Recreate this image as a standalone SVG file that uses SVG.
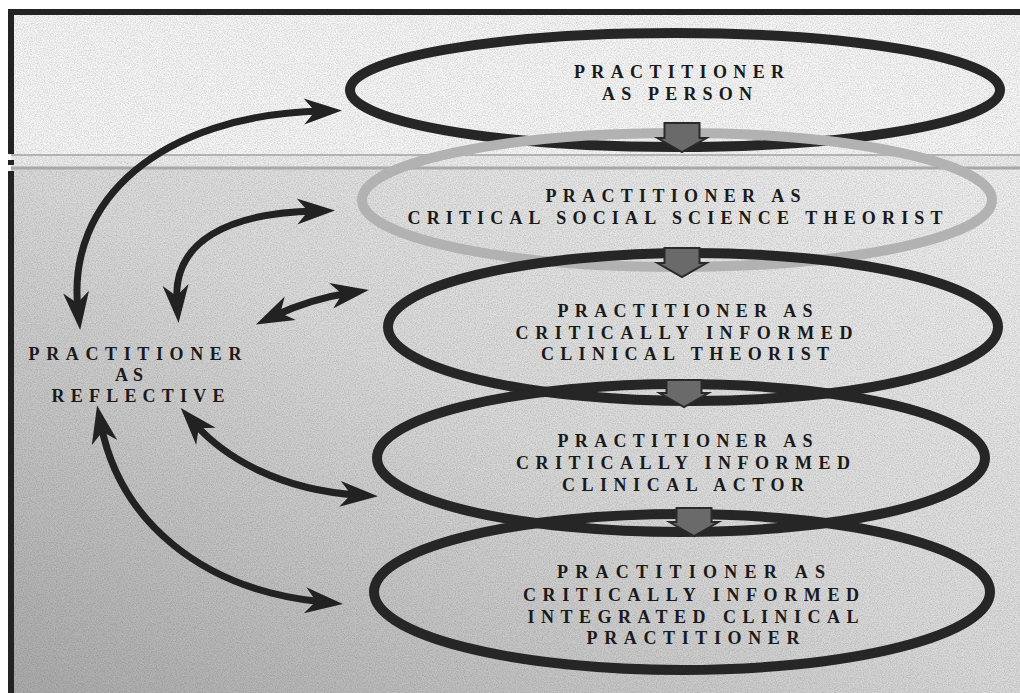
<svg xmlns="http://www.w3.org/2000/svg" width="1020" height="693" viewBox="0 0 1020 693">
  <style>
    .ring { fill: none; stroke: #262626; stroke-width: 10; }
    .ring-light { fill: none; stroke: #b2b2b2; stroke-width: 10; }
    .lbl { font-family: "Liberation Serif", "Times New Roman", serif; font-weight: bold; font-size: 18px; fill: #1a1a1a; text-anchor: middle; }
    .link { fill: none; stroke: #222; stroke-width: 7; stroke-linecap: butt; }
    .step { fill: #6a6a6a; stroke: #2a2a2a; stroke-width: 2; stroke-linejoin: miter; }
  </style>
  <defs>
    <linearGradient id="lowerBg" x1="1" y1="0" x2="0" y2="1">
      <stop offset="0" stop-color="#f0f0f0"/>
      <stop offset="0.5" stop-color="#dadada"/>
      <stop offset="1" stop-color="#ababab"/>
    </linearGradient>
    <filter id="grain" x="0" y="0" width="100%" height="100%">
      <feTurbulence type="fractalNoise" baseFrequency="0.85" numOctaves="2" seed="7"/>
      <feColorMatrix type="matrix" values="0 0 0 0 0  0 0 0 0 0  0 0 0 0 0  1.3 0 0 0 -0.45"/>
    </filter>
    <marker id="head" viewBox="-40 -14 44 28" refX="-20" refY="0" markerWidth="44" markerHeight="28" markerUnits="userSpaceOnUse" orient="auto-start-reverse">
      <path d="M0,0 L-38,-13 L-27,0 L-38,13 Z" fill="#222"/>
    </marker>
  </defs>

  <!-- paper -->
  <rect x="0" y="0" width="1020" height="693" fill="#ffffff"/>
  <rect x="11" y="12" width="1009" height="144" fill="#f6f6f6"/>
  <rect x="11" y="156" width="1009" height="12" fill="#ececec"/>
  <rect x="11" y="168" width="1009" height="525" fill="url(#lowerBg)"/>
  <rect x="11" y="12" width="1009" height="681" filter="url(#grain)" opacity="0.22"/>
  <line x1="11" y1="155" x2="1020" y2="155" stroke="#a0a0a0" stroke-width="1.5"/>
  <line x1="11" y1="168" x2="1020" y2="168" stroke="#a8a8a8" stroke-width="3"/>

  <!-- frame -->
  <g id="frame" fill="#232323">
    <rect x="8" y="9" width="1012" height="6"/>
    <rect x="8" y="9" width="6" height="145"/>
    <rect x="8" y="160" width="6" height="5"/>
    <rect x="8" y="171" width="6" height="522"/>
  </g>

  <!-- stacked practitioner roles -->
  <g id="node-person">
    <ellipse class="ring" cx="675" cy="90" rx="325" ry="57"/>
    <text class="lbl" x="679" y="78" textLength="210" lengthAdjust="spacing">PRACTITIONER</text>
    <text class="lbl" x="677" y="100" textLength="150" lengthAdjust="spacing">AS PERSON</text>
  </g>

  <g id="node-social-theorist">
    <ellipse class="ring-light" cx="677" cy="200" rx="315" ry="67"/>
    <text class="lbl" x="673" y="202" textLength="255" lengthAdjust="spacing">PRACTITIONER AS</text>
    <text class="lbl" x="675" y="224" textLength="535" lengthAdjust="spacing">CRITICAL SOCIAL SCIENCE THEORIST</text>
  </g>

  <g id="node-clinical-theorist">
    <ellipse class="ring" cx="693" cy="327" rx="305" ry="74"/>
    <text class="lbl" x="685" y="317" textLength="255" lengthAdjust="spacing">PRACTITIONER AS</text>
    <text class="lbl" x="684" y="339" textLength="337" lengthAdjust="spacing">CRITICALLY INFORMED</text>
    <text class="lbl" x="685" y="360" textLength="288" lengthAdjust="spacing">CLINICAL THEORIST</text>
  </g>

  <g id="node-clinical-actor">
    <ellipse class="ring" cx="681" cy="458" rx="304" ry="74"/>
    <text class="lbl" x="685" y="447" textLength="255" lengthAdjust="spacing">PRACTITIONER AS</text>
    <text class="lbl" x="683" y="469" textLength="334" lengthAdjust="spacing">CRITICALLY INFORMED</text>
    <text class="lbl" x="683" y="491" textLength="242" lengthAdjust="spacing">CLINICAL ACTOR</text>
  </g>

  <g id="node-integrated">
    <ellipse class="ring" cx="682" cy="592" rx="308" ry="78"/>
    <text class="lbl" x="691" y="578" textLength="268" lengthAdjust="spacing">PRACTITIONER AS</text>
    <text class="lbl" x="691" y="601" textLength="336" lengthAdjust="spacing">CRITICALLY INFORMED</text>
    <text class="lbl" x="693" y="623" textLength="331" lengthAdjust="spacing">INTEGRATED CLINICAL</text>
    <text class="lbl" x="693" y="644" textLength="213" lengthAdjust="spacing">PRACTITIONER</text>
  </g>

  <g id="node-reflective">
    <text class="lbl" x="135" y="360" textLength="213" lengthAdjust="spacing">PRACTITIONER</text>
    <text class="lbl" x="129" y="381" textLength="28" lengthAdjust="spacing">AS</text>
    <text class="lbl" x="138" y="402" textLength="173" lengthAdjust="spacing">REFLECTIVE</text>
  </g>

  <g id="connectors">
    <!-- progression between roles -->
    <path class="step" d="M664.5,123 H699.5 V138 H706.5 L682,152 L657.5,138 H664.5 Z"/>
    <path class="step" d="M664.5,248 H699.5 V263 H706.5 L682,277 L657.5,263 H664.5 Z"/>
    <path class="step" d="M666.5,380 H701.5 V393 H708.5 L684,407 L659.5,393 H666.5 Z"/>
    <path class="step" d="M676.5,508 H711.5 V522 H718.5 L694,536 L669.5,522 H676.5 Z"/>

    <!-- two-way links to the reflective practitioner -->
    <path class="link" d="M78,310 C66,200 160,115 322,111" marker-start="url(#head)" marker-end="url(#head)"/>
    <path class="link" d="M177,303 C172,240 230,213 315,211" marker-start="url(#head)" marker-end="url(#head)"/>
    <path class="link" d="M274,316 Q310,299 349,293" marker-start="url(#head)" marker-end="url(#head)"/>
    <path class="link" d="M194,423 C225,458 280,490 358,495" marker-start="url(#head)" marker-end="url(#head)"/>
    <path class="link" d="M101,425 C120,520 200,590 323,602" marker-start="url(#head)" marker-end="url(#head)"/>
  </g>
</svg>
